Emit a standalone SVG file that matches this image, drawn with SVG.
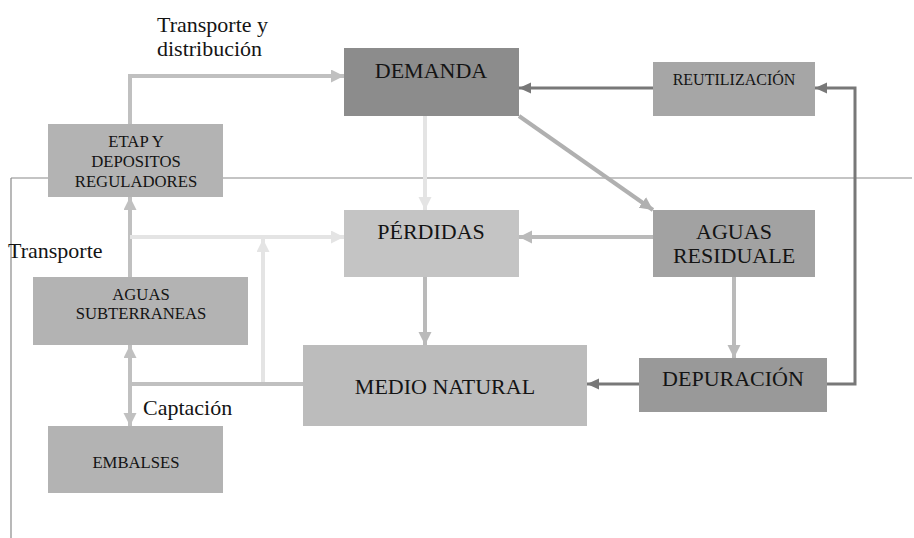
<svg xmlns="http://www.w3.org/2000/svg" width="914" height="538" viewBox="0 0 914 538">
<style>
.box text{font-family:"Liberation Serif","Times New Roman",serif;fill:#141414;text-anchor:middle}
.lbl{font-family:"Liberation Serif","Times New Roman",serif;fill:#141414;font-size:22px}
.big{font-size:22px}
.sm{font-size:16.7px}
.c{fill:none;stroke-linejoin:miter}
.g1{stroke:#c0c0c0;stroke-width:4}
.g2{stroke:#e4e4e4;stroke-width:4}
.g3{stroke:#bababa;stroke-width:4}
.dk{stroke:#787878;stroke-width:3}
</style>
<defs>
<marker id="aG1" markerUnits="userSpaceOnUse" markerWidth="14" markerHeight="14" refX="13" refY="6.5" orient="auto"><path d="M0,0 L13,6.5 L0,13 z" fill="#c0c0c0"/></marker>
<marker id="aG2" markerUnits="userSpaceOnUse" markerWidth="14" markerHeight="14" refX="13" refY="6.5" orient="auto"><path d="M0,0 L13,6.5 L0,13 z" fill="#e4e4e4"/></marker>
<marker id="aG3" markerUnits="userSpaceOnUse" markerWidth="14" markerHeight="14" refX="13" refY="6.5" orient="auto"><path d="M0,0 L13,6.5 L0,13 z" fill="#bababa"/></marker>
<marker id="aG4" markerUnits="userSpaceOnUse" markerWidth="14" markerHeight="14" refX="13" refY="6.5" orient="auto"><path d="M0,0 L13,6.5 L0,13 z" fill="#b0b0b0"/></marker>
<marker id="aDk" markerUnits="userSpaceOnUse" markerWidth="14" markerHeight="14" refX="12" refY="5.5" orient="auto"><path d="M0,0 L12,5.5 L0,11 z" fill="#787878"/></marker>
</defs>
<rect width="914" height="538" fill="#ffffff"/>
<g id="frame" fill="none" stroke="#8a8a8a" stroke-width="1.2">
<path d="M11,178 H912 M11,178 V538"/>
</g>
<g id="connectors">
<path class="c g1" d="M130,124 V76 H344" marker-end="url(#aG1)"/>
<path class="c g2" d="M425,116 V210" marker-end="url(#aG2)"/>
<path class="c dk" d="M653,88 H519" marker-end="url(#aDk)"/>
<path class="c dk" d="M827,384 H855 V88 H815" marker-end="url(#aDk)"/>
<path class="c" stroke="#b0b0b0" stroke-width="4" d="M519,116 L653,210" marker-end="url(#aG4)"/>
<path class="c g3" d="M653,237 H519" marker-end="url(#aG3)"/>
<path class="c g3" d="M734,277 V358" marker-end="url(#aG3)"/>
<path class="c dk" d="M639,384 H587" marker-end="url(#aDk)"/>
<path class="c g3" d="M425,277 V345" marker-end="url(#aG3)"/>
<path class="c g1" d="M130,277 V197" marker-end="url(#aG1)"/>
<path class="c g2" d="M130,237 H344" marker-end="url(#aG2)"/>
<path class="c g2" stroke-width="3" d="M263,384 V239" marker-end="url(#aG2)"/>
<path class="c g1" d="M303,384 H130"/>
<path class="c g1" d="M130,384 V345" marker-end="url(#aG1)"/>
<path class="c g1" d="M130,384 V426" marker-end="url(#aG1)"/>
</g>
<g id="demanda" class="box"><rect x="344" y="48" width="175" height="68" fill="#8c8c8c"/><text x="431" y="78" class="big">DEMANDA</text></g>
<g id="reutilizacion" class="box"><rect x="653" y="62" width="162" height="54" fill="#a6a6a6"/><text x="734" y="85" font-size="16">REUTILIZACIÓN</text></g>
<g id="etap" class="box"><rect x="48" y="124" width="175" height="73" fill="#b3b3b3"/><text x="136" y="147" class="sm">ETAP Y</text><text x="136" y="167" class="sm">DEPOSITOS</text><text x="136" y="187" class="sm">REGULADORES</text></g>
<g id="perdidas" class="box"><rect x="344" y="210" width="175" height="67" fill="#c4c4c4"/><text x="431" y="239" class="big">PÉRDIDAS</text></g>
<g id="aguas-residuales" class="box"><rect x="653" y="210" width="162" height="67" fill="#a2a2a2"/><text x="734" y="239" class="big">AGUAS</text><text x="734" y="263" class="big">RESIDUALE</text></g>
<g id="aguas-subterraneas" class="box"><rect x="33" y="277" width="215" height="68" fill="#b3b3b3"/><text x="141" y="300" class="sm">AGUAS</text><text x="141" y="319" class="sm">SUBTERRANEAS</text></g>
<g id="medio-natural" class="box"><rect x="303" y="345" width="284" height="81" fill="#bcbcbc"/><text x="445" y="394" class="big">MEDIO NATURAL</text></g>
<g id="depuracion" class="box"><rect x="639" y="358" width="188" height="54" fill="#999999"/><text x="733" y="386" class="big">DEPURACIÓN</text></g>
<g id="embalses" class="box"><rect x="48" y="426" width="175" height="67" fill="#b3b3b3"/><text x="136" y="468" class="sm">EMBALSES</text></g>
<g id="labels">
<text class="lbl" x="157" y="32">Transporte y</text>
<text class="lbl" x="157" y="56">distribución</text>
<text class="lbl" x="8" y="258">Transporte</text>
<text class="lbl" x="143" y="415">Captación</text>
</g>
</svg>
